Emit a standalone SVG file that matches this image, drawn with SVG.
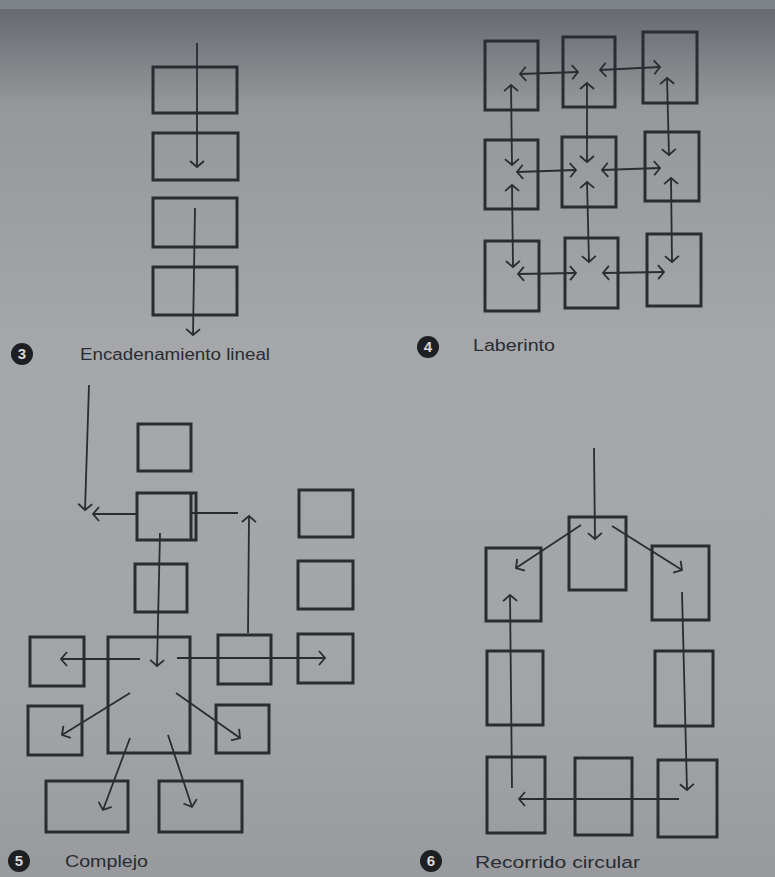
<svg xmlns="http://www.w3.org/2000/svg" width="775" height="877" viewBox="0 0 775 877">
<style>
.box{fill:none;stroke:#2a2c32;stroke-width:3}
.ln{fill:none;stroke:#2a2c32;stroke-width:1.8}
.a{marker-end:url(#ah)}
.d{marker-end:url(#ah);marker-start:url(#ahs)}
.lbl{font-family:"Liberation Sans",Arial,sans-serif;font-size:16px;fill:#2a2c31}
.num{font-family:"Liberation Sans",Arial,sans-serif;font-size:15px;font-weight:bold;fill:#d8d8d8;text-anchor:middle}
.dot{fill:#1e1f23}
</style>
<defs>
<linearGradient id="bg" x1="0" y1="0" x2="0" y2="1">
<stop offset="0" stop-color="#62666e"/>
<stop offset="0.12" stop-color="#959799"/>
<stop offset="0.4" stop-color="#a5a7ab"/>
<stop offset="0.8" stop-color="#a2a4a8"/>
<stop offset="1" stop-color="#989a9e"/>
</linearGradient>
<marker id="ah" markerUnits="userSpaceOnUse" markerWidth="20" markerHeight="20" viewBox="-10 -10 20 20" refX="0" refY="0" orient="auto">
<path d="M-6,-7 L0,0 L-6,7" fill="none" stroke="#2a2c32" stroke-width="1.8"/>
</marker>
<marker id="ahs" markerUnits="userSpaceOnUse" markerWidth="20" markerHeight="20" viewBox="-10 -10 20 20" refX="0" refY="0" orient="auto-start-reverse">
<path d="M-6,-7 L0,0 L-6,7" fill="none" stroke="#2a2c32" stroke-width="1.8"/>
</marker>
</defs>
<rect x="0" y="0" width="775" height="877" fill="url(#bg)"/>
<rect x="0" y="0" width="775" height="9" fill="#7e838a"/>

<!-- Diagram 3: Encadenamiento lineal -->
<g id="d3-n1"><rect class="box" x="153" y="67" width="84" height="46"/></g>
<g id="d3-n2"><rect class="box" x="153" y="133" width="85" height="47"/></g>
<g id="d3-n3"><rect class="box" x="153" y="198" width="84" height="49"/></g>
<g id="d3-n4"><rect class="box" x="153" y="267" width="84" height="48"/></g>
<g id="d3-edges">
<line class="ln a" x1="197" y1="43" x2="197" y2="167"/>
<line class="ln a" x1="195" y1="208" x2="193" y2="335"/>
</g>

<!-- Diagram 4: Laberinto -->
<g id="d4-a1"><rect class="box" x="485" y="41" width="53" height="69"/></g>
<g id="d4-a2"><rect class="box" x="563" y="37" width="52" height="70"/></g>
<g id="d4-a3"><rect class="box" x="643" y="32" width="54" height="71"/></g>
<g id="d4-b1"><rect class="box" x="485" y="140" width="53" height="69"/></g>
<g id="d4-b2"><rect class="box" x="562" y="137" width="54" height="70"/></g>
<g id="d4-b3"><rect class="box" x="645" y="132" width="54" height="69"/></g>
<g id="d4-c1"><rect class="box" x="485" y="241" width="54" height="70"/></g>
<g id="d4-c2"><rect class="box" x="565" y="238" width="53" height="70"/></g>
<g id="d4-c3"><rect class="box" x="647" y="234" width="54" height="72"/></g>
<g id="d4-edges">
<line class="ln d" x1="520" y1="74" x2="578" y2="72"/>
<line class="ln d" x1="600" y1="70" x2="660" y2="67"/>
<line class="ln d" x1="517" y1="172" x2="576" y2="170"/>
<line class="ln d" x1="602" y1="170" x2="660" y2="168"/>
<line class="ln d" x1="518" y1="274" x2="576" y2="273"/>
<line class="ln d" x1="603" y1="273" x2="664" y2="272"/>
<line class="ln d" x1="511" y1="85" x2="512" y2="165"/>
<line class="ln d" x1="512" y1="185" x2="513" y2="267"/>
<line class="ln d" x1="587" y1="83" x2="587" y2="162"/>
<line class="ln d" x1="587" y1="182" x2="589" y2="262"/>
<line class="ln d" x1="667" y1="78" x2="669" y2="155"/>
<line class="ln d" x1="671" y1="178" x2="672" y2="262"/>
</g>

<!-- Diagram 5: Complejo -->
<g id="d5-top"><rect class="box" x="138" y="424" width="53" height="47"/></g>
<g id="d5-hub2"><rect class="box" x="137" y="493" width="59" height="47"/><line class="box" x1="191" y1="493" x2="191" y2="540"/></g>
<g id="d5-mid"><rect class="box" x="135" y="564" width="52" height="48"/></g>
<g id="d5-r1"><rect class="box" x="299" y="490" width="54" height="47"/></g>
<g id="d5-r2"><rect class="box" x="298" y="561" width="55" height="48"/></g>
<g id="d5-r3"><rect class="box" x="298" y="634" width="55" height="49"/></g>
<g id="d5-center"><rect class="box" x="108" y="637" width="82" height="116"/></g>
<g id="d5-q"><rect class="box" x="218" y="635" width="53" height="49"/></g>
<g id="d5-l1"><rect class="box" x="30" y="637" width="54" height="49"/></g>
<g id="d5-l2"><rect class="box" x="28" y="706" width="54" height="49"/></g>
<g id="d5-m"><rect class="box" x="216" y="705" width="53" height="48"/></g>
<g id="d5-b1"><rect class="box" x="46" y="781" width="82" height="51"/></g>
<g id="d5-b2"><rect class="box" x="159" y="781" width="83" height="51"/></g>
<g id="d5-edges">
<line class="ln a" x1="89" y1="385" x2="85" y2="510"/>
<line class="ln a" x1="137" y1="514" x2="93" y2="514"/>
<line class="ln" x1="192" y1="513" x2="238" y2="513"/>
<line class="ln a" x1="248" y1="633" x2="249" y2="516"/>
<line class="ln a" x1="160" y1="533" x2="157" y2="666"/>
<line class="ln a" x1="140" y1="659" x2="61" y2="659"/>
<line class="ln a" x1="177" y1="658" x2="325" y2="658"/>
<line class="ln a" x1="130" y1="693" x2="62" y2="735"/>
<line class="ln a" x1="176" y1="693" x2="240" y2="738"/>
<line class="ln a" x1="130" y1="738" x2="103" y2="810"/>
<line class="ln a" x1="168" y1="735" x2="192" y2="807"/>
</g>

<!-- Diagram 6: Recorrido circular -->
<g id="d6-top"><rect class="box" x="569" y="517" width="57" height="73"/></g>
<g id="d6-l1"><rect class="box" x="486" y="548" width="55" height="73"/></g>
<g id="d6-r1"><rect class="box" x="652" y="546" width="57" height="74"/></g>
<g id="d6-l2"><rect class="box" x="487" y="651" width="56" height="74"/></g>
<g id="d6-r2"><rect class="box" x="655" y="651" width="58" height="75"/></g>
<g id="d6-l3"><rect class="box" x="487" y="757" width="58" height="76"/></g>
<g id="d6-m3"><rect class="box" x="575" y="758" width="57" height="77"/></g>
<g id="d6-r3"><rect class="box" x="658" y="760" width="59" height="77"/></g>
<g id="d6-edges">
<line class="ln a" x1="594" y1="448" x2="595" y2="539"/>
<line class="ln a" x1="581" y1="525" x2="516" y2="568"/>
<line class="ln a" x1="612" y1="526" x2="682" y2="570"/>
<line class="ln a" x1="682" y1="592" x2="687" y2="790"/>
<line class="ln a" x1="679" y1="799" x2="519" y2="799"/>
<line class="ln a" x1="512" y1="788" x2="510" y2="595"/>
</g>

<!-- Labels -->
<g id="label3">
<circle class="dot" cx="22" cy="354" r="11"/>
<text class="num" x="22" y="359">3</text>
<text class="lbl" x="80" y="360" textLength="190" lengthAdjust="spacingAndGlyphs">Encadenamiento lineal</text>
</g>
<g id="label4">
<circle class="dot" cx="428" cy="347" r="11"/>
<text class="num" x="428" y="352">4</text>
<text class="lbl" x="473" y="351" textLength="82" lengthAdjust="spacingAndGlyphs">Laberinto</text>
</g>
<g id="label5">
<circle class="dot" cx="19" cy="861" r="11"/>
<text class="num" x="19" y="866">5</text>
<text class="lbl" x="65" y="867" textLength="83" lengthAdjust="spacingAndGlyphs">Complejo</text>
</g>
<g id="label6">
<circle class="dot" cx="431" cy="861" r="11"/>
<text class="num" x="431" y="866">6</text>
<text class="lbl" x="475" y="868" textLength="165" lengthAdjust="spacingAndGlyphs">Recorrido circular</text>
</g>
</svg>
